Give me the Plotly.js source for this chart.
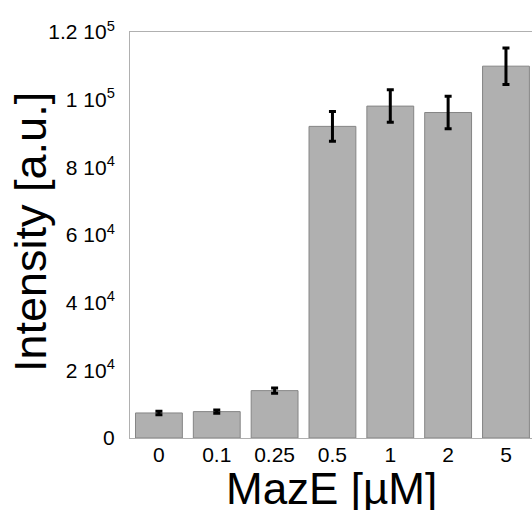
<!DOCTYPE html>
<html>
<head>
<meta charset="utf-8">
<script src="https://cdn.plot.ly/plotly-3.0.1.min.js"></script>
<style>html,body{margin:0;padding:0;overflow:hidden;background:#fff;}</style>
</head>
<body>
<div id="chart" style="width:532px;height:510px;"></div>
<script>
const categories = ["0", "0.1", "0.25", "0.5", "1", "2", "5"];
const intensity = [7400, 7800, 14000, 92100, 98100, 96200, 109900];
const errors = [500, 500, 800, 4400, 4800, 4800, 5400];
const yTickVals = [0, 20000, 40000, 60000, 80000, 100000, 120000];
const yTickText = ["0", "2 10<sup>4</sup>", "4 10<sup>4</sup>", "6 10<sup>4</sup>", "8 10<sup>4</sup>", "1 10<sup>5</sup>", "1.2 10<sup>5</sup>"];
const yTitle = "Intensity [a.u.]";
const xTitle = "MazE [µM]";

const font = "Liberation Sans, Arial, sans-serif";

const trace = {
  type: "bar",
  x: categories,
  y: intensity,
  width: 0.81,
  marker: {color: "#b0b0b0", line: {color: "#858585", width: 1}},
  error_y: {type: "data", array: errors, visible: true, color: "#000000", thickness: 3, width: 3.5},
  hoverinfo: "none"
};

const layout = {
  width: 532,
  height: 510,
  margin: {l: 130, r: 0, t: 32, b: 72},
  paper_bgcolor: "#ffffff",
  plot_bgcolor: "#ffffff",
  showlegend: false,
  font: {family: font, color: "#000000"},
  xaxis: {
    type: "category",
    range: [-0.5, 6.45],
    showline: true,
    mirror: true,
    linecolor: "#b0b0b0",
    linewidth: 1,
    showgrid: false,
    zeroline: false,
    ticks: "",
    ticklabelstandoff: -2,
    tickfont: {size: 21, family: font, color: "#000000"}
  },
  yaxis: {
    range: [0, 120000],
    tickvals: yTickVals,
    ticktext: yTickText,
    showline: true,
    linecolor: "#b0b0b0",
    linewidth: 1,
    showgrid: false,
    zeroline: false,
    ticks: "",
    ticklabelstandoff: 10,
    tickfont: {size: 21, family: font, color: "#000000"}
  },
  annotations: [{
    text: yTitle,
    xref: "paper", yref: "paper",
    x: 0, y: 0.5,
    xshift: -100, yshift: 3,
    xanchor: "center", yanchor: "middle",
    textangle: -90,
    showarrow: false,
    font: {size: 45, family: font, color: "#000000"}
  }, {
    text: xTitle,
    xref: "paper", yref: "paper",
    x: 0.5, y: 0,
    yshift: -24,
    xanchor: "center", yanchor: "top",
    showarrow: false,
    font: {size: 44, family: font, color: "#000000"}
  }]
};

Plotly.newPlot("chart", [trace], layout, {displayModeBar: false, staticPlot: true});
</script>
</body>
</html>
